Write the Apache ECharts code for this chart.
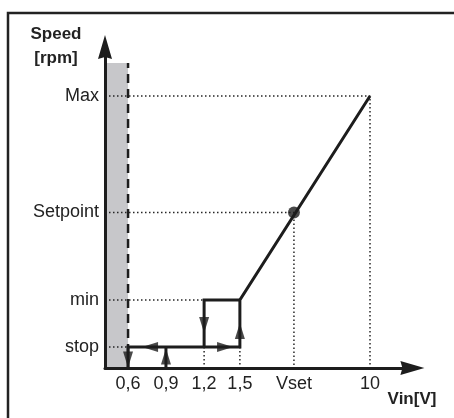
<!DOCTYPE html>
<html>
<head>
<meta charset="utf-8">
<script src="https://cdn.jsdelivr.net/npm/echarts@6/dist/echarts.min.js"></script>
<style>
html,body{margin:0;padding:0;background:#fff;}
#chart{width:454px;height:418px;}
</style>
</head>
<body>
<div id="chart"></div>
<script>
// Schematic (non-linear) axis positions
const vinLabels = ['0,6', '0,9', '1,2', '1,5', 'Vset', '10'];
const vinPos    = [0.87, 2.3, 3.74, 5.09, 7.13, 10];
const speedLabels = ['stop', 'min', 'Setpoint', 'Max'];
const speedPos    = [7.7, 25, 57.2, 100];
const stopZoneTop = 112.1;
// Direction arrows on the hysteresis loop
const arrowX   = [0.87, 2.3, 1.7, 4.53, 3.74, 5.09];
const arrowY   = [3.1, 4.2, 7.7, 7.7, 15.8, 13.6];
const arrowDir = ['down', 'up', 'left', 'right', 'down', 'up'];

const X = {}; vinLabels.forEach((l, i) => X[l] = vinPos[i]);
const Y = {}; speedLabels.forEach((l, i) => Y[l] = speedPos[i]);

const ink = '#1d1d1d';
const dotStyle = { color: '#262626', width: 1.5, type: [1.5, 2.5] };
const thickStyle = { color: ink, width: 3, join: 'miter', cap: 'butt' };

function lineSeries(data, style, z) {
  return { type: 'line', data: data, showSymbol: false, symbol: 'none', silent: true,
           animation: false, lineStyle: style, z: z || 2 };
}

const guides = [
  [[0, Y['Max']], [X['10'], Y['Max']], [X['10'], 0]],
  [[0, Y['Setpoint']], [X['Vset'], Y['Setpoint']], [X['Vset'], 0]],
  [[0, Y['min']], [X['1,2'], Y['min']]],
  [[0, Y['stop']], [X['0,6'], Y['stop']]],
  [[X['1,2'], Y['stop']], [X['1,2'], 0]],
  [[X['1,5'], Y['stop']], [X['1,5'], 0]]
];
const paths = [
  [[X['0,6'], 0], [X['0,6'], Y['stop']], [X['1,5'], Y['stop']], [X['1,5'], Y['min']], [X['10'], Y['Max']]],
  [[X['1,2'], Y['stop']], [X['1,2'], Y['min']], [X['1,5'], Y['min']]],
  [[X['0,9'], 0], [X['0,9'], Y['stop']]]
];
const rot = { up: 0, down: 180, left: 90, right: -90 };

const series = [];
// grey stop zone
series.push({
  type: 'line', data: [], silent: true, z: 1,
  markArea: { silent: true, itemStyle: { color: '#c7c7ca' },
    data: [[{ coord: [0, 0] }, { coord: [X['0,6'], stopZoneTop] }]] }
});
series.push(lineSeries([[X['0,6'], 0], [X['0,6'], stopZoneTop]], { color: ink, width: 2.5, type: [9, 6] }, 2));
guides.forEach(g => series.push(lineSeries(g, dotStyle, 2)));
paths.forEach(p => series.push(lineSeries(p, thickStyle, 3)));
series.push({
  type: 'scatter', silent: true, z: 4, animation: false,
  symbol: 'triangle', symbolSize: [10, 16],
  itemStyle: { color: ink },
  data: arrowX.map((x, i) => ({ value: [x, arrowY[i]], symbolRotate: rot[arrowDir[i]] }))
});
series.push({
  type: 'scatter', silent: true, z: 4, animation: false,
  symbol: 'circle', symbolSize: 12, itemStyle: { color: ink },
  data: [[X['Vset'], Y['Setpoint']]]
});

const labelFont = { fontFamily: 'Liberation Sans, Arial, sans-serif', fontSize: 18, color: '#222' };
const axisArrow = 'path://M0,0 L7,24 L0,22 L-7,24 Z';

const chart = echarts.init(document.getElementById('chart'), null, { renderer: 'canvas' });
chart.setOption({
  animation: false,
  grid: { left: 105, top: 47, width: 307.4, height: 321 },
  xAxis: {
    type: 'value', min: 0, max: 11.6, z: 5,
    splitLine: { show: false }, axisTick: { show: false },
    axisLine: { lineStyle: { color: ink, width: 3 }, symbol: ['none', axisArrow], symbolSize: [15, 24] },
    axisLabel: Object.assign({ customValues: vinPos, margin: 7, showMinLabel: true, showMaxLabel: true,
      formatter: v => { const i = vinPos.indexOf(v); return i >= 0 ? vinLabels[i] : ''; } }, labelFont)
  },
  yAxis: {
    type: 'value', min: 0, max: 118, z: 5,
    splitLine: { show: false }, axisTick: { show: false },
    axisLine: { lineStyle: { color: ink, width: 3 }, symbol: ['none', axisArrow], symbolSize: [15, 24] },
    axisLabel: Object.assign({ customValues: speedPos, margin: 6,
      formatter: v => { const i = speedPos.indexOf(v); return i >= 0 ? speedLabels[i] : ''; } }, labelFont)
  },
  graphic: [
    { type: 'rect', z: -1, shape: { x: 8, y: 13, width: 500, height: 500 },
      style: { fill: 'none', stroke: '#222', lineWidth: 2.5 } },
    { type: 'text', x: 56, y: 34, style: { text: 'Speed', font: 'bold 17px Liberation Sans, Arial, sans-serif',
      fill: '#222', align: 'center', verticalAlign: 'middle' } },
    { type: 'text', x: 56, y: 58, style: { text: '[rpm]', font: 'bold 17px Liberation Sans, Arial, sans-serif',
      fill: '#222', align: 'center', verticalAlign: 'middle' } },
    { type: 'text', x: 412, y: 399, style: { text: 'Vin[V]', font: 'bold 17px Liberation Sans, Arial, sans-serif',
      fill: '#222', align: 'center', verticalAlign: 'middle' } }
  ],
  series: series
});
</script>
</body>
</html>
